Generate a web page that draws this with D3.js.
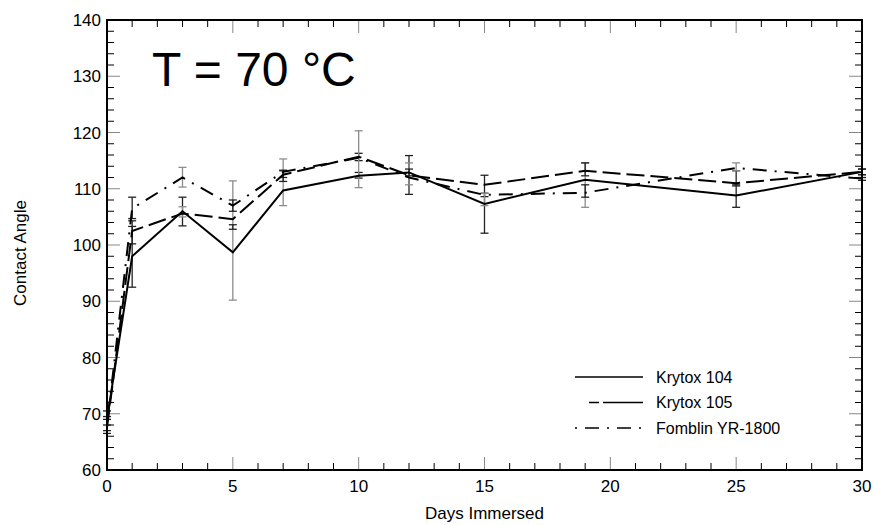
<!DOCTYPE html>
<html>
<head>
<meta charset="utf-8">
<script src="https://cdn.jsdelivr.net/npm/d3@7"></script>
<style>
  body { margin: 0; background: #fff; }
  svg { display: block; font-family: "Liberation Sans", Arial, sans-serif; }
</style>
</head>
<body>
<div id="graph"></div>
<script>
// days immersed
const days = [0, 1, 3, 5, 7, 10, 12, 15, 19, 25, 30];

// mean contact angles
const krytox104 = [69, 98, 106, 98.7, 109.7, 112.3, 112.9, 107.3, 111.6, 108.8, 113];
const krytox105 = [67.5, 102.5, 105.6, 104.6, 112.5, 115.7, 112.4, 110.7, 113.2, 111, 113];
const fomblin = [68, 106.5, 112, 107, 113, 115.5, 112, 108.9, 109.3, 113.7, 111.8];

// error bar ends (low / high)
const krytox104Lo = [68, 92.5, 103.4, 90.2, 107, 111.9, 109, 102.1, 106.7, 106.7, 112.5];
const krytox104Hi = [70.5, 103.3, 108.5, 111.4, 115.3, 112.9, 115.9, 112.4, 114.6, 110.7, 113.5];
const krytox105Lo = [66.5, 100.2, 105, 102.8, 111.3, 115, 110.7, 108.6, 112.3, 110.5, 112.5];
const krytox105Hi = [69, 104.3, 106.8, 103.6, 113.2, 116.3, 114.6, 109.2, 114.6, 113.2, 113.5];
const fomblinLo = [67, 104.7, 110.3, 106, 112, 110.2, 112.3, 107, 108.5, 113.2, 111.5];
const fomblinHi = [69.5, 108.5, 113.8, 108, 113.3, 120.3, 113.5, 109.2, 110.7, 114.6, 112];
// bar colour flags (true = grey)
const krytox104Grey = [false, false, false, true, true, false, false, false, true, false, false];
const krytox105Grey = [false, false, true, false, false, false, true, false, false, false, false];
const fomblinGrey = [false, false, true, false, false, true, false, true, false, true, false];

const seriesNames = ["Krytox 104", "Krytox 105", "Fomblin YR-1800"];
const dashes = [null, "18,6", "2,8,14,8"];

const xTicks = [0, 5, 10, 15, 20, 25, 30];
const yTicks = [60, 70, 80, 90, 100, 110, 120, 130, 140];

const width = 874, height = 525;
const margin = {top: 20, right: 12, bottom: 55, left: 107};

const svg = d3.select("#graph").append("svg")
    .attr("width", width)
    .attr("height", height);

const x = d3.scaleLinear().domain([0, 30]).range([margin.left, width - margin.right]);
const y = d3.scaleLinear().domain([60, 140]).range([height - margin.bottom, margin.top]);

const series = [
    {name: seriesNames[0], values: krytox104, lo: krytox104Lo, hi: krytox104Hi, grey: krytox104Grey, dash: dashes[0]},
    {name: seriesNames[1], values: krytox105, lo: krytox105Lo, hi: krytox105Hi, grey: krytox105Grey, dash: dashes[1]},
    {name: seriesNames[2], values: fomblin, lo: fomblinLo, hi: fomblinHi, grey: fomblinGrey, dash: dashes[2]}
];

// ticks, inside the frame on all four sides
const x0 = x.range()[0], x1 = x.range()[1];
const y0 = y.range()[0], y1 = y.range()[1];
const ticks = svg.append("g");

d3.range(0, 31, 1).forEach(v => {
    const major = v % 5 === 0;
    const len = major ? 13 : 7;
    const col = major ? "#888" : "#000";
    ticks.append("line").attr("x1", x(v)).attr("x2", x(v)).attr("y1", y0).attr("y2", y0 - len)
        .attr("stroke", col).attr("stroke-width", 1);
    ticks.append("line").attr("x1", x(v)).attr("x2", x(v)).attr("y1", y1).attr("y2", y1 + len)
        .attr("stroke", col).attr("stroke-width", 1);
});
d3.range(60, 141, 2).forEach(v => {
    const major = v % 10 === 0;
    const len = major ? 13 : 7;
    const col = major ? "#888" : "#000";
    ticks.append("line").attr("x1", x0).attr("x2", x0 + len).attr("y1", y(v)).attr("y2", y(v))
        .attr("stroke", col).attr("stroke-width", 1);
    ticks.append("line").attr("x1", x1).attr("x2", x1 - len).attr("y1", y(v)).attr("y2", y(v))
        .attr("stroke", col).attr("stroke-width", 1);
});

// tick labels
svg.append("g").selectAll("text")
    .data(xTicks)
    .join("text")
    .attr("x", d => x(d))
    .attr("y", y0 + 22)
    .attr("text-anchor", "middle")
    .attr("font-size", 17)
    .text(d => d);

svg.append("g").selectAll("text")
    .data(yTicks)
    .join("text")
    .attr("x", x0 - 6)
    .attr("y", d => y(d))
    .attr("dy", "0.36em")
    .attr("text-anchor", "end")
    .attr("font-size", 17)
    .text(d => d);

// axis titles
svg.append("text")
    .attr("x", (x0 + x1) / 2)
    .attr("y", 519)
    .attr("text-anchor", "middle")
    .attr("font-size", 17)
    .text("Days Immersed");

svg.append("text")
    .attr("transform", `translate(26,${(y0 + y1) / 2 + 8}) rotate(-90)`)
    .attr("text-anchor", "middle")
    .attr("font-size", 17)
    .text("Contact Angle");

svg.append("text")
    .attr("x", 152)
    .attr("y", 86)
    .attr("font-size", 48)
    .text("T = 70 \u00B0C");

// error bars
const capW = 4;
series.forEach(s => {
    const g = svg.append("g");
    days.forEach((d, i) => {
        const col = s.grey[i] ? "#8c8c8c" : "#222";
        const cx = x(d);
        g.append("line").attr("x1", cx).attr("x2", cx)
            .attr("y1", y(s.lo[i])).attr("y2", y(s.hi[i]))
            .attr("stroke", col).attr("stroke-width", 1.3);
        [s.lo[i], s.hi[i]].forEach(v => {
            g.append("line").attr("x1", cx - capW).attr("x2", cx + capW)
                .attr("y1", y(v)).attr("y2", y(v))
                .attr("stroke", col).attr("stroke-width", 1.3);
        });
    });
});

// data lines
const line = d3.line()
    .x((d, i) => x(days[i]))
    .y(d => y(d));

series.forEach(s => {
    svg.append("path")
        .datum(s.values)
        .attr("d", line)
        .attr("fill", "none")
        .attr("stroke", "#000")
        .attr("stroke-width", 2)
        .attr("stroke-dasharray", s.dash);
});

// frame
svg.append("rect")
    .attr("x", x0).attr("y", y1)
    .attr("width", x1 - x0).attr("height", y0 - y1)
    .attr("fill", "none")
    .attr("stroke", "#000")
    .attr("stroke-width", 2);

// legend
const legendDash = [null, "10,4,40,0", "2,8,14,8"];
const legend = svg.append("g").attr("transform", "translate(575,377)");
series.forEach((s, i) => {
    legend.append("line")
        .attr("x1", i === 1 ? 14 : 0).attr("x2", 68)
        .attr("y1", i * 25.5).attr("y2", i * 25.5)
        .attr("stroke", "#000").attr("stroke-width", 1.6)
        .attr("stroke-dasharray", legendDash[i]);
    legend.append("text")
        .attr("x", 81)
        .attr("y", i * 25.5)
        .attr("dy", "0.35em")
        .attr("font-size", 16)
        .text(s.name);
});
</script>
</body>
</html>
